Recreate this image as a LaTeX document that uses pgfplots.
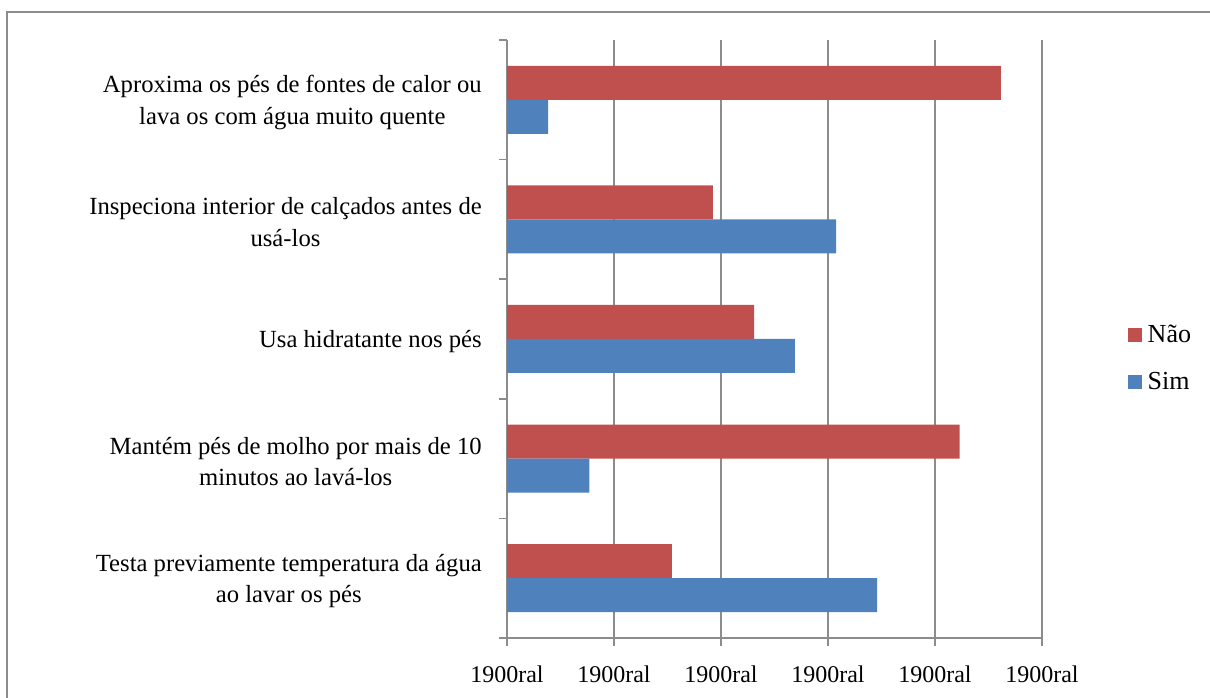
\documentclass[border=0pt]{standalone}
\usepackage{fontspec}
\setmainfont{Liberation Serif}
\usepackage{pgfplots}
\pgfplotsset{compat=1.18}
\definecolor{nao}{HTML}{C0504D}
\definecolor{sim}{HTML}{4F81BD}
\definecolor{gridgray}{HTML}{8C8C8C}
\begin{document}
\begin{tikzpicture}
\path[use as bounding box] (0,0) rectangle (907.5pt,523.5pt);
\draw[gridgray, line width=1.2pt] (5.25pt,-5pt) -- (5.25pt,514.5pt) -- (920pt,514.5pt);
\begin{axis}[
  at={(380.25pt,45pt)}, anchor=south west,
  scale only axis, width=401.25pt, height=448.5pt,
  xmin=0, xmax=100, ymin=-0.5, ymax=4.5,
  axis x line*=bottom, axis y line*=left,
  axis line style={gridgray, line width=1.1pt, -},
  tick align=outside,
  major tick length=6pt,
  tick style={gridgray, line width=1.1pt},
  xtick={0,20,40,60,80,100},
  xticklabels={1900ral,1900ral,1900ral,1900ral,1900ral,1900ral},
  xticklabel style={font=\fontsize{18}{21}\selectfont, yshift=-11pt},
  xmajorgrids, grid style={gridgray, line width=1.1pt},
  ytick={-0.5,0.5,1.5,2.5,3.5,4.5},
  yticklabels={},
  extra y ticks={0,1,2,3,4},
  extra y tick labels={{Testa previamente temperatura da água\\ao lavar os pés},
    {Mantém pés de molho por mais de 10\\minutos ao lavá-los},
    {Usa hidratante nos pés},
    {Inspeciona interior de calçados antes de\\usá-los},
    {Aproxima os pés de fontes de calor ou\\lava os com água muito quente}},
  extra y tick style={tick style={draw=none}, grid=none,
    yticklabel style={align=center, anchor=east, inner sep=0pt, xshift=-12.75pt, yshift=-2pt,
      font=\fontsize{18.5}{23.5}\selectfont}},
  xbar, bar width=25.5pt,
  legend style={at={(1.161,0.468)}, anchor=west, draw=none, fill=none,
    font=\fontsize{19.5}{22}\selectfont, row sep=17pt, inner sep=0pt,
    nodes={inner xsep=4pt}},
  legend cell align=left,
  legend image code/.code={\draw[#1, draw=none] (0pt,-5.25pt) rectangle (10.5pt,5.25pt);},
]
\addplot[fill=nao, draw=none, bar shift=12.75pt] coordinates {
  (30.8,0) (84.6,1) (46.2,2) (38.5,3) (92.3,4)};
\addlegendentry{Não}
\addplot[fill=sim, draw=none, bar shift=-12.75pt] coordinates {
  (69.2,0) (15.4,1) (53.8,2) (61.5,3) (7.7,4)};
\addlegendentry{Sim}
\end{axis}
\end{tikzpicture}
\end{document}
